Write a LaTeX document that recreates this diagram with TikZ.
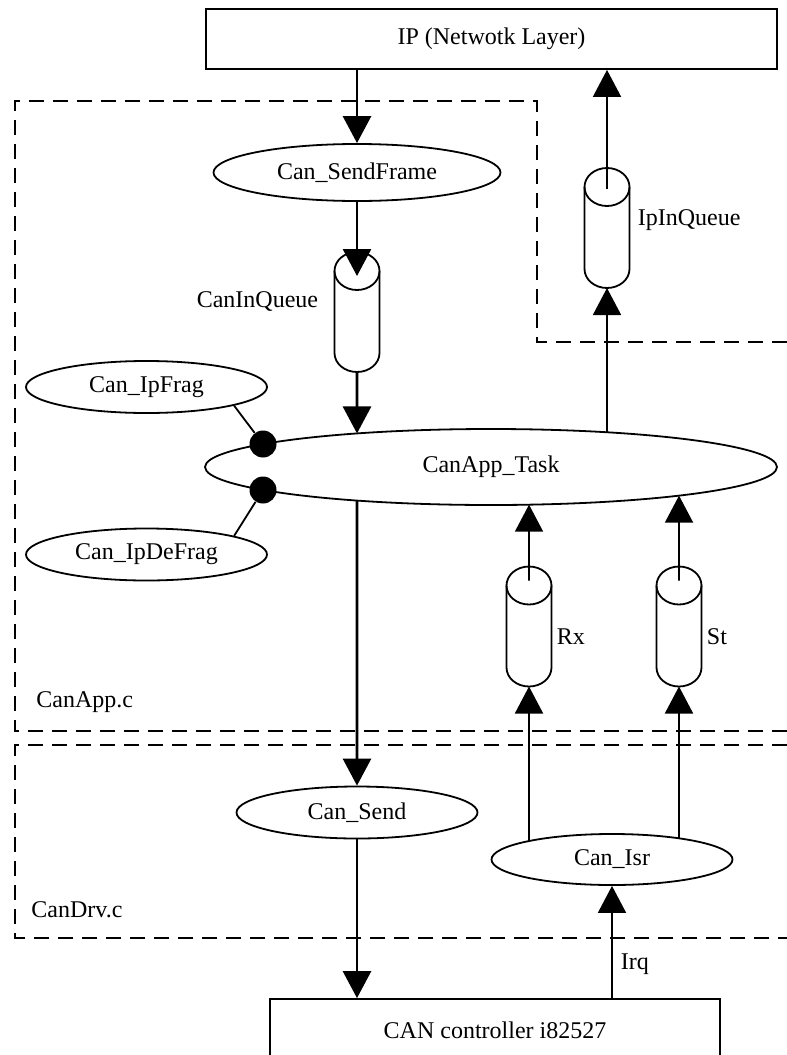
\documentclass[tikz,border=0pt]{standalone}
\usepackage{fontspec}
\setmainfont{Liberation Serif}
\usetikzlibrary{arrows.meta,positioning,calc,intersections,shapes.geometric}

% queue drawn as an upright can: full top end, round bottom
\newcommand{\queuenode}[3]{%
  \node[queue] (#1) at (#2,#3) {};
  \draw[qline] (#1.north) ++(0,19) circle[x radius=22.5, y radius=19];
  \draw[qline] (#1.north) ++(-22.5,19) -- ++(0,82)
    arc[start angle=180, end angle=0, x radius=22.5, y radius=19] -- ++(0,-82);
}

\begin{document}
\begin{tikzpicture}[
  x=0.5pt, y=-0.5pt,
  font=\fontsize{12}{14}\selectfont,
  layer/.style={draw, line width=0.9pt, minimum width=#1, minimum height=30pt, inner sep=0pt},
  func/.style={draw, ellipse, line width=0.9pt, minimum width=120.5pt, minimum height=26pt, inner sep=0pt},
  queue/.style={minimum width=22.5pt, minimum height=60pt, inner sep=0pt, outer sep=0pt},
  qline/.style={line width=0.9pt},
  dot/.style={circle, fill, minimum size=13.5pt, inner sep=0pt},
  flow/.style={-{Triangle[length=13.5pt, width=14pt]}, line width=0.9pt},
  mainflow/.style={flow, line width=1.4pt},
  link/.style={line width=0.9pt},
  region/.style={dash pattern=on 7.5pt off 4.5pt, line width=1.4pt},
  lbl/.style={inner sep=0pt}
]
\useasboundingbox (0,0) rectangle (787,1055);
\clip (0,0) rectangle (787,1055);

% source files
\draw[region] (787,342) -- (537,342) -- (537,101) -- (15,101) -- (15,731) -- (787,731);
\draw[region] (787,745) -- (15,745) -- (15,938) -- (787,938);
\node[lbl, anchor=west] (appfile) at (36,702) {CanApp.c};
\node[lbl, anchor=west] (drvfile) at (31,910) {CanDrv.c};

% blocks
\node[layer=285.5pt] (ip) at (491.5,39) {IP (Netwotk Layer)};
\node[func, minimum width=143.5pt, minimum height=28.5pt] (sendframe) at (357,172.5) {Can\_SendFrame};
\queuenode{canq}{357}{312}
\queuenode{ipq}{607}{228}
\node[func, minimum width=286pt, minimum height=38pt, name path=taskrim] (task) at (491,467) {CanApp\_Task};
\node[func] (frag) at (146.5,387) {Can\_IpFrag};
\node[func] (defrag) at (146.5,554.5) {Can\_IpDeFrag};
\queuenode{rxq}{529}{626.5}
\queuenode{stq}{679}{626.5}
\node[func] (send) at (357,812.5) {Can\_Send};
\node[func, minimum height=25.5pt, name path=isrrim] (isr) at (612,859.5) {Can\_Isr};
\node[layer=225pt, minimum height=31pt] (ctl) at (495,1030) {CAN controller i82527};

% queue names
\node[lbl, left=8pt of canq, yshift=5.5pt] (canqname) {CanInQueue};
\node[lbl, right=4pt of ipq, yshift=4pt] (ipqname) {IpInQueue};
\node[lbl, right=2.5pt of rxq, yshift=-5pt] (rxname) {Rx};
\node[lbl, right=2.5pt of stq, yshift=-5pt] (stname) {St};

% where the vertical lines meet the ellipses
\path[name path=sendcol] (canq.south) -- (send.north);
\path[name path=ipcol] (ipq.south) -- (ipq.south |- task.center);
\path[name path=rxcol] (rxq.north) -- (rxq.north |- task.center);
\path[name path=stcol] (stq.north) -- (stq.north |- task.center);
\path[name path=rxlow] (rxq.south) -- (rxq.south |- isr.center);
\path[name path=stlow] (stq.south) -- (stq.south |- isr.center);
\path[name intersections={of=taskrim and sendcol, sort by=sendcol, by={taskin,taskout}}];
\path[name intersections={of=taskrim and ipcol, by=taskip}];
\path[name intersections={of=taskrim and rxcol, by=taskrx}];
\path[name intersections={of=taskrim and stcol, by=taskst}];
\path[name intersections={of=isrrim and rxlow, by=isrrx}];
\path[name intersections={of=isrrim and stlow, by=isrst}];

% frag/defrag hooks
\node[dot] (hook1) at ($(task.center)+(-228,-23)$) {};
\node[dot] (hook2) at ($(task.center)+(-228,23)$) {};
\draw[link] (frag.-12.5) -- (hook1);
\draw[link] (defrag.12.5) -- (hook2);

% send path
\draw[mainflow] (ip.south -| sendframe.north) -- (sendframe.north);
\draw[mainflow] (sendframe.south) -- ([yshift=-12pt]canq.north);
\draw[mainflow] (canq.south) -- (taskin);
\draw[mainflow] (taskout) -- (send.north);
\draw[mainflow] (send.south) -- (send.south |- ctl.north);

% receive path
\draw[flow] (isr.south |- ctl.north) -- node[right, pos=0.3, inner sep=4pt] {Irq} (isr.south);
\draw[flow] (isrrx) -- (rxq.south);
\draw[flow] (isrst) -- (stq.south);
\draw[flow] ([yshift=-7pt]rxq.north) -- (taskrx);
\draw[flow] ([yshift=-7pt]stq.north) -- (taskst);
\draw[flow] (taskip) -- (ipq.south);
\draw[flow] ([yshift=-10.5pt]ipq.north) -- (ip.south -| ipq.north);
\end{tikzpicture}
\end{document}
